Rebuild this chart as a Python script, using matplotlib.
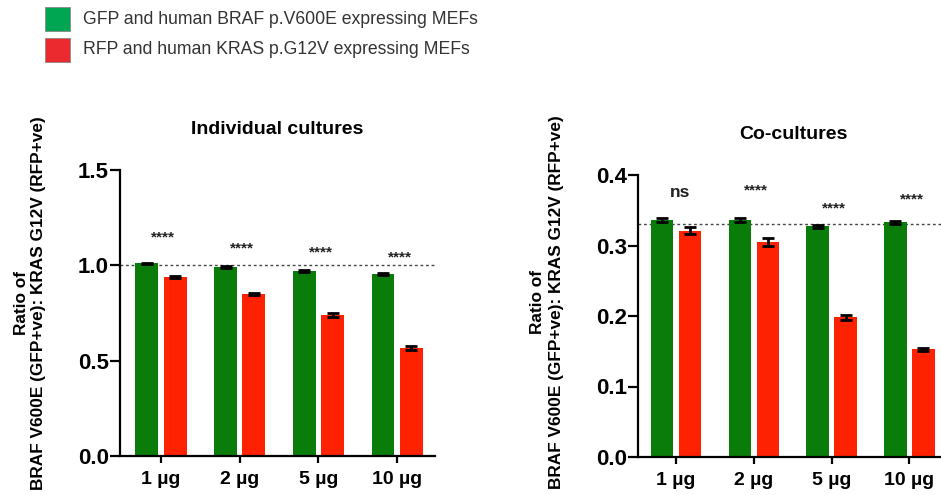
import matplotlib
matplotlib.use("Agg")
import matplotlib.pyplot as plt
import numpy as np
from matplotlib.patches import Rectangle

plt.rcParams['font.family'] = ['Liberation Sans', 'DejaVu Sans']

# ---- data ----
doses = ["1 \u00b5g", "2 \u00b5g", "5 \u00b5g", "10 \u00b5g"]
series_names = ["GFP and human BRAF p.V600E expressing MEFs",
                "RFP and human KRAS p.G12V expressing MEFs"]

ind_braf = [1.010, 0.993, 0.972, 0.955]
ind_braf_err = [0.004, 0.005, 0.005, 0.004]
ind_kras = [0.940, 0.850, 0.740, 0.566]
ind_kras_err = [0.004, 0.003, 0.012, 0.010]
ind_sig = ["****", "****", "****", "****"]
ind_sig_y = [1.145, 1.09, 1.065, 1.04]
ind_ref = 1.0

co_braf = [0.336, 0.336, 0.327, 0.333]
co_braf_err = [0.003, 0.003, 0.002, 0.002]
co_kras = [0.321, 0.305, 0.198, 0.153]
co_kras_err = [0.005, 0.006, 0.004, 0.002]
co_sig = ["ns", "****", "****", "****"]
co_sig_y = [0.375, 0.378, 0.352, 0.366]
co_ref = 0.330

GREEN = "#0a7c0a"
RED = "#ff2200"
LEG_GREEN = "#00a651"
LEG_RED = "#ea2a2e"

W, H = 941, 495
fig = plt.figure(figsize=(W / 100, H / 100), dpi=100)


def make_axes(x0, x1, ytop, ybot):
    return fig.add_axes([x0 / W, (H - ybot) / H, (x1 - x0) / W, (ybot - ytop) / H])


def draw(ax, braf, braf_err, kras, kras_err, sig, sig_y, ref, ylim, yticks, ytl, title, xlim):
    x = np.arange(len(doses))
    off, bw = 0.18, 0.29
    ax.bar(x - off, braf, bw, color=GREEN, edgecolor='none', zorder=2)
    ax.bar(x + off, kras, bw, color=RED, edgecolor='none', zorder=2)
    ax.errorbar(x - off, braf, yerr=braf_err, fmt='none', ecolor='black',
                elinewidth=2, capsize=4, capthick=2, zorder=3)
    ax.errorbar(x + off, kras, yerr=kras_err, fmt='none', ecolor='black',
                elinewidth=2, capsize=4, capthick=2, zorder=3)
    ax.axhline(ref, color='#444444', linestyle=(0, (2, 2)), linewidth=1, zorder=1)
    for i, (s, sy) in enumerate(zip(sig, sig_y)):
        if s == "ns":
            ax.text(x[i] + 0.05, sy, s, ha='center', va='center', fontsize=12.5,
                    fontweight='bold', color='#222222')
        else:
            ax.text(x[i] + 0.03, sy, s, ha='center', va='center', fontsize=11,
                    fontweight='bold', color='#222222')
    ax.set_xlim(*xlim)
    ax.set_ylim(*ylim)
    ax.set_yticks(yticks)
    ax.set_yticklabels(ytl, fontsize=16, fontweight='bold')
    ax.set_xticks(x)
    ax.set_xticklabels(doses, fontsize=14, fontweight='bold')
    for s in ['top', 'right']:
        ax.spines[s].set_visible(False)
    for s in ['left', 'bottom']:
        ax.spines[s].set_linewidth(1.6)
    ax.tick_params(axis='y', length=7, width=1.6, pad=1)
    ax.tick_params(axis='x', length=5, width=1.6, pad=6)
    ax.set_title(title, fontsize=14, fontweight='bold', pad=26)


ax1 = make_axes(120, 435, 170, 456)
draw(ax1, ind_braf, ind_braf_err, ind_kras, ind_kras_err, ind_sig, ind_sig_y, ind_ref,
     (0, 1.5), [0, 0.5, 1.0, 1.5], ["0.0", "0.5", "1.0", "1.5"], "Individual cultures",
     (-0.52, 3.48))

ax2 = make_axes(638, 949, 175, 457)
draw(ax2, co_braf, co_braf_err, co_kras, co_kras_err, co_sig, co_sig_y, co_ref,
     (0, 0.4), [0, 0.1, 0.2, 0.3, 0.4], ["0.0", "0.1", "0.2", "0.3", "0.4"], "Co-cultures",
     (-0.49, 3.51))

ylab = "Ratio of\nBRAF V600E (GFP+ve): KRAS G12V (RFP+ve)"
for xc, yc in [(30, 303), (547, 302)]:
    fig.text(xc / W, (H - yc) / H, ylab, rotation=90, ha='center', va='center',
             multialignment='center', fontsize=12.4, fontweight='bold', linespacing=1.25)

# legend
for (yt, col, name) in [(7, LEG_GREEN, series_names[0]), (38, LEG_RED, series_names[1])]:
    fig.patches.append(Rectangle((45 / W, (H - yt - 24) / H), 25 / W, 24 / H,
                                 transform=fig.transFigure, facecolor=col,
                                 edgecolor='#888888', linewidth=0.6))
    fig.text(83 / W, (H - yt - 12) / H, name, ha='left', va='center',
             fontsize=12.7, color='#333333')

fig.savefig("out.png", dpi=100)
